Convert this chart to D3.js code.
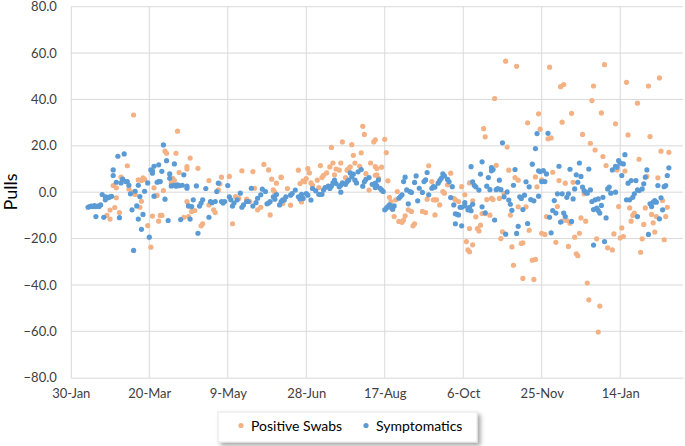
<!DOCTYPE html>
<html><head><meta charset="utf-8">
<script src="https://cdn.jsdelivr.net/npm/d3@7"></script>
<style>
body{margin:0;background:#fff;}
svg{display:block;font-family:Lato,"Open Sans",sans-serif;}
</style></head>
<body><svg id="c" width="685" height="446"></svg>
<script>
// ---- data ----
const startDate = "2020-01-30";
const xTickDates = ["2020-01-30","2020-03-20","2020-05-09","2020-06-28","2020-08-17","2020-10-06","2020-11-25","2021-01-14"];
const yTicks = [-80,-60,-40,-20,0,20,40,60,80];
const seriesNames = ["Positive Swabs","Symptomatics"];

// days since 30-Jan-2020
const swabDays = [23,25,25,27,28,29,29,31,32,33,36,37,39,40,41,43,44,45,45,46,47,49,51,52,53,54,55,56,57,58,59,60,61,64,65,66,67,68,69,72,74,74,74,75,75,76,77,79,81,83,84,88,88,91,92,94,95,96,101,103,105,107,109,112,114,116,117,119,121,123,126,127,128,129,130,131,134,134,135,138,140,145,146,147,148,149,150,151,152,153,154,157,158,159,160,161,163,165,166,167,168,169,171,172,173,175,176,177,178,179,180,181,184,185,186,187,188,190,191,193,194,195,194,194,195,196,198,200,201,202,203,204,205,206,207,208,209,211,212,213,215,217,218,219,224,226,227,228,230,231,232,232,233,235,237,238,240,242,244,245,247,249,251,252,253,254,254,254,256,256,258,259,260,261,262,263,264,264,265,267,268,269,270,271,273,274,275,276,277,278,279,280,281,282,283,284,285,285,287,288,288,290,291,292,294,295,296,296,297,298,299,300,300,302,303,304,305,306,307,309,310,311,312,313,313,314,315,316,317,318,319,320,321,322,323,324,325,326,327,328,329,330,331,332,333,334,335,336,337,338,339,340,341,342,345,346,347,348,349,350,351,352,353,354,355,356,357,358,359,361,362,363,364,365,366,367,368,369,370,371,372,373,374,375,376,377,378,379,380,381];
const swabPulls = [-10,-7.7,-11.6,2.9,-6.6,1.9,-2.4,-8.8,6.5,5.6,11.4,1.4,0,33.3,-1,5.3,-6.5,5,-3.9,6.2,5.5,-14.4,-23.7,-10.3,1.9,-1.6,-1.4,-12.5,-10,-10,0.7,17.7,16.8,4,6,5,16.8,26.3,8.5,-10.8,10,11,-4,-10.5,-5.9,14.7,-8.3,-7.9,10.3,-14.5,-13.6,5,-5.5,-7.6,-8.8,1,3.6,6.5,6.8,-13.6,-1.9,-2.7,9.2,-3,-4,8.9,1.7,-7.6,-6.5,12,9.6,-9.8,5.6,1,-0.1,3.9,6.5,6.3,-4.9,1.6,-5.6,9.5,3.7,-4.2,4.9,4.5,5.9,10.2,8.3,4,3,5.2,2,11.5,6.3,7.3,8.3,10.9,19.3,12.6,7.5,10,9.5,12.6,21.7,6.3,9.5,10.2,10.9,20.5,15.9,12.6,11.2,17,28.4,24.9,8,0.9,12.6,21.7,7.3,10.2,22.6,11,7.5,6,10.8,22.8,17.1,4.9,-2.2,-4,-7.3,-10.5,-3.3,0.3,-12.6,-13,-12,-10.2,-7.6,-8.3,-14.5,-13.6,-8.3,-8.8,-3,11.4,4.6,-3.3,-3.3,-9.8,-3.3,-5.5,0.3,-0.4,3.2,8.2,-2.6,-3.3,-4,2.4,-1.1,-21.3,-24.9,4,-15.7,-25.7,-22.7,-3.7,-10.6,-15.7,-16.7,-14.2,-9.2,27.4,23.9,-9.2,-3.2,-9.9,-2.7,-3.2,40.4,11.6,-2.7,-20,-17.1,-0.6,56.5,19.5,9.5,-9.9,-23.6,-31.5,6.3,54.3,5.2,-6.3,-22.1,-21.8,-37.2,-6.3,29.9,-16.4,-29.3,-37.6,-29,6.6,2.3,33.8,27.2,5.3,-17.7,-18.2,-10.5,23,53.9,23.4,8.6,-21.6,-6.2,5,45.5,-12.5,30.2,46.4,3.9,-12.2,-23.4,-13.4,34,4.3,-19.4,-26.6,-27.4,-17.7,-11.1,24.9,-0.7,-12.5,-39.2,-46.4,21.1,39.5,45.8,18.2,-20.1,-60.3,-49.1,34.2,15.4,55,11.5,-24,-24.9,-18,29.5,9.6,-6.2,-19.7,-15.4,-19.1,9.1,47.4,24.7,-6.8,-12.5,-10,-9,38.4,14.2,-25.9,-20.1,-13.9,-6.8,6.8,45.8,24,-9.6,-13.2,-17.2,-10.5,6.2,49.3,17.7,-3.6,-20.5,-10.5,-6.5,17.2];

const sympDays = [11,12,13,14,15,16,16,17,18,19,20,21,22,22,23,24,25,26,27,27,29,30,31,32,33,34,35,36,37,38,39,40,41,42,43,43,44,45,46,47,49,50,51,52,52,53,53,55,56,56,57,58,59,60,61,62,63,63,64,66,66,67,68,69,70,71,72,74,74,75,76,77,78,80,81,82,83,84,86,88,89,90,92,93,94,96,97,98,100,101,102,103,104,106,108,109,110,112,113,115,116,118,119,121,122,124,125,126,127,129,130,131,133,134,135,136,137,140,141,143,145,146,147,148,150,151,153,154,156,158,159,160,161,162,164,165,166,167,168,169,171,172,172,173,175,176,177,178,179,180,181,182,183,185,186,187,188,190,192,194,194,195,196,197,198,199,200,201,202,203,204,205,206,209,210,211,212,213,214,215,216,217,219,220,221,222,224,225,226,227,228,230,231,232,234,235,236,237,238,240,241,242,243,244,245,245,246,247,248,249,249,251,251,253,254,255,255,256,256,257,258,260,261,262,262,264,265,266,267,268,268,269,270,271,272,273,274,275,276,277,278,279,280,281,282,283,284,285,286,287,288,289,290,291,292,293,294,295,296,297,298,298,299,300,301,302,303,304,305,306,307,308,309,310,311,312,313,314,315,316,317,318,319,320,321,322,323,324,325,326,327,328,329,330,331,332,333,333,334,335,336,336,337,338,339,340,341,342,343,344,345,347,347,348,349,350,351,352,353,354,355,356,357,358,359,360,361,361,362,364,365,366,367,368,369,370,371,372,373,374,375,376,377,378,379,380,381];
const sympPulls = [-6.5,-6.2,-6,-6.2,-5.8,-10.5,-6.2,-6,-6.2,-5.5,-1,-10.8,-3.3,-2,-2.2,-2.4,-2,-1.8,7.2,9.6,4.3,15.5,-11,4,5.6,16.5,4.6,4.6,3,-0.7,-7.6,-25.1,0.4,-5.9,3,-11.6,-1.9,-16,-9.6,0.4,4,-19.4,9.6,8.2,9.2,11.2,-1.7,4.3,11.8,4.6,4.6,9,20.4,-3,13.6,-12.2,7.9,6,2.7,12.2,3,2.6,3.2,2.8,-11.8,3,7.5,2.6,1.7,-5.9,-11.6,-6.2,-3.3,2.7,-17.7,-6,-4.7,-3.3,1.6,-10.8,-4,-4.5,-4,0.3,3.9,-4,-4.7,-4,2.9,-2,-3.3,-6,-4.7,-3.3,-0.4,-6.5,-5.5,-4,-4,1.7,-6,-4.5,-2.6,-1.1,1.3,0.3,-5,-4.7,-4,-2,-3,-1,-5.5,-4,-3.3,-3.4,-2,-1.3,-0.6,0.9,-2,-2.9,-0.9,-2.7,-0.6,-1.3,-3.4,1.6,0.6,-0.9,-1,-0.9,0.9,2,2.6,1.6,2.6,4,5.2,3.7,2.3,0,3,4,3.4,4.5,5.2,8.3,6.6,7.8,5.2,4,8.8,9.8,2.6,4.5,5.5,6.3,3.4,2,3.9,2.7,5.3,1.7,1,0.3,-7.6,-6.9,-6.2,-5.5,-6.5,-7.3,-5.9,-2.6,-1.9,-1.1,4.6,6.5,1,-5,0.3,-0.1,4.2,7,-3.7,1.7,-0.1,4.6,5.3,8.5,-1.1,1.7,2.4,2.2,3.9,5,6,7.9,7,5.5,4.5,-2.3,2.4,-5.5,-9.3,-13.6,-9.5,-9.8,-6.5,-14.5,-6.5,-5.9,-4.5,-7.6,-6.5,11,-8,-5.2,4.5,3,2.3,0.9,7.8,13.1,-6.3,-8.9,2.6,6.3,1.1,9.2,10.6,9.8,-12,1.1,1.6,5.2,1.1,21.3,-2,-18.1,0.1,-3.4,-5.2,-7.8,3,9.8,-17.8,-14.7,-2,-2.7,-7.5,-1.3,4.5,-13.5,2.3,-3.2,12.1,-3.7,18.8,25.3,-1.7,9.2,8.9,4.6,9.3,4.6,7.9,25.4,-10.8,-17.5,-7.9,-3.6,-9,-0.7,11.2,-12.9,-0.7,-9,-10.5,-2.2,-0.7,9.9,-12.6,-2.9,1.4,7.5,4.3,12.6,6.8,2.2,0.7,0,-0.4,10,1,-4,-7.5,-22.8,-3.3,-6.9,-7.9,-2.9,-9,-5.7,-2.2,-21.3,-11.1,1.4,2.2,-0.4,9.6,11.1,0,10.8,13.6,12.5,7.2,12.2,16.2,-3.3,3.9,-3.3,5,-2.2,-0.7,5,1,-10.5,0.7,1.4,3.6,6.5,9.6,-18.2,-5,-6.2,-4.3,-3.6,-4.3,2.9,-11.5,-2.4,-7.6,2.4,2.9,7.2,10.5];

// ---- chart ----
const svg = d3.select("#c");
const m = {left:70.8, right:683, top:6.7, bottom:377.7};
const parse = d3.utcParse("%Y-%m-%d");
const t0 = parse(startDate);
const x = d3.scaleUtc().domain([t0, d3.utcDay.offset(t0, 390)]).range([m.left, m.right]);
const y = d3.scaleLinear().domain([-80, 80]).range([m.bottom, m.top]);

const grid = "#d9d9d9";
svg.append("g").selectAll("line").data(yTicks.filter(d=>d>-80)).join("line")
  .attr("x1", m.left).attr("x2", m.right)
  .attr("y1", d=>y(d)).attr("y2", d=>y(d))
  .attr("stroke", grid).attr("stroke-width", 1);
const tickDates = xTickDates.map(parse);
svg.append("g").selectAll("line").data(tickDates.slice(1)).join("line")
  .attr("x1", d=>x(d)).attr("x2", d=>x(d))
  .attr("y1", m.top).attr("y2", m.bottom)
  .attr("stroke", grid).attr("stroke-width", 1);

const xAxis = d3.axisBottom(x).tickValues(tickDates).tickFormat(d3.utcFormat("%-d-%b")).tickSize(0).tickPadding(11);
const gx = svg.append("g").attr("transform", `translate(0,${m.bottom})`).call(xAxis);
gx.select(".domain").attr("stroke", "#d9d9d9");
gx.selectAll("text").attr("font-size", 13).attr("fill", "#404040").attr("font-family", "Lato, 'Open Sans', sans-serif");

const yAxis = d3.axisLeft(y).tickValues(yTicks).tickFormat(d3.format(".1f")).tickSize(0).tickPadding(14);
const gy = svg.append("g").attr("transform", `translate(${m.left},0)`).call(yAxis);
gy.select(".domain").attr("stroke", "#d9d9d9");
gy.selectAll("text").attr("font-size", 13).attr("fill", "#404040").attr("font-family", "Lato, 'Open Sans', sans-serif");

svg.append("text").attr("transform", `translate(17,192) rotate(-90)`)
  .attr("text-anchor", "middle").attr("font-size", 18).attr("fill", "#000").text("Pulls");

const colors = ["#F4B183", "#5B9BD5"];
const seriesDays = [swabDays, sympDays];
const seriesVals = [swabPulls, sympPulls];
seriesDays.forEach((days, i) => {
  svg.append("g").selectAll("circle").data(days.map((d,k)=>({d, v:seriesVals[i][k]}))).join("circle")
    .attr("cx", p => x(d3.utcDay.offset(t0, p.d)))
    .attr("cy", p => y(p.v))
    .attr("r", 2.6)
    .attr("fill", colors[i]);
});

const defs = svg.append("defs");
const f = defs.append("filter").attr("id","sh").attr("x","-10%").attr("y","-30%").attr("width","130%").attr("height","190%");
f.append("feDropShadow").attr("dx",3).attr("dy",3).attr("stdDeviation",2).attr("flood-color","#000").attr("flood-opacity",0.35);
const lg = svg.append("g").attr("transform","translate(218,412)");
lg.append("rect").attr("width",259).attr("height",30).attr("fill","#fff").attr("stroke","#e6e6e6").attr("filter","url(#sh)");
const lx = [23, 148];
seriesNames.forEach((n,i)=>{
  lg.append("circle").attr("cx", lx[i]).attr("cy", 13.5).attr("r", 2.6).attr("fill", colors[i]);
  lg.append("text").attr("x", lx[i]+10).attr("y", 18.5).attr("font-size", 14).attr("fill","#000").text(n);
});
</script></body></html>
